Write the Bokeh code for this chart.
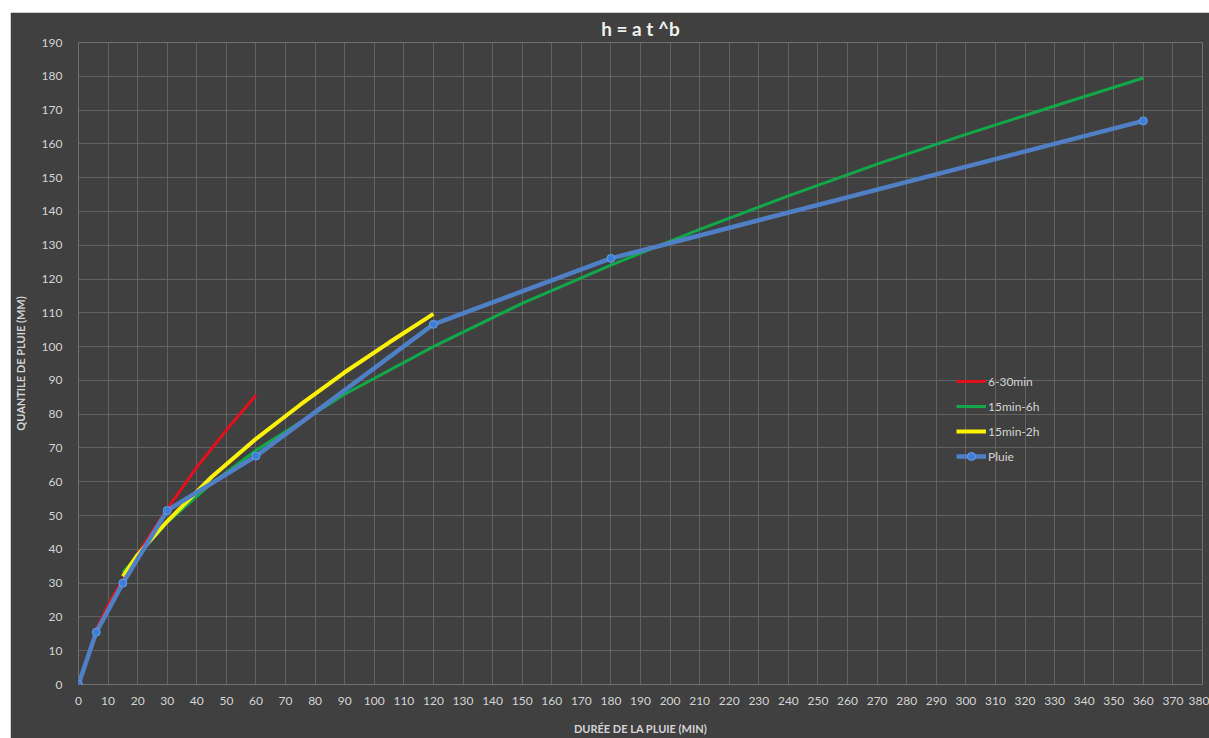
from bokeh.plotting import figure
from bokeh.models import Range1d, FixedTicker, Legend, LegendItem, Spacer
from bokeh.layouts import column, row
from bokeh.embed import file_html
from bokeh.resources import INLINE

# ---- data ----
pluie_t = [0, 6, 15, 30, 60, 120, 180, 360]
pluie_h = [0, 15.5, 30.0, 51.5, 67.6, 106.6, 126.1, 166.8]

red_t = [6, 10, 15, 20, 30, 40, 50, 60]
red_h = [16.2, 23.5, 31.0, 38.6, 52.0, 64.3, 75.3, 85.6]

green_t = [15, 30, 45, 60, 90, 120, 150, 180, 210, 240, 270, 300, 330, 360]
green_h = [33.2, 48.0, 59.5, 69.3, 85.9, 100.0, 112.8, 124.1, 134.7, 144.6, 154.0, 162.8, 171.2, 179.5]

yellow_t = [15, 20, 30, 45, 60, 75, 90, 105, 120]
yellow_h = [32.0, 38.4, 48.3, 61.4, 72.7, 82.8, 92.4, 101.2, 109.7]

x_ticks = list(range(0, 390, 10))
y_ticks = list(range(0, 200, 10))

title_text = "h = a t ^b"
x_label = "DURÉE DE LA PLUIE (MIN)"
y_label = "QUANTILE DE PLUIE (MM)"
names = ["6-30min", "15min-6h", "15min-2h", "Pluie"]

FONT = "Lato"
BG = "#404040"
TXT = "#d4d4d4"

p = figure(width=1199, height=726, output_backend="svg", toolbar_location=None,
           x_range=Range1d(0, 380), y_range=Range1d(0, 190),
           min_border_left=68, min_border_right=7, min_border_top=30, min_border_bottom=54)

p.background_fill_color = BG
p.border_fill_color = BG
p.outline_line_color = None

p.title.text = title_text
p.title.align = "center"
p.title.text_font = FONT
p.title.text_font_size = "19px"
p.title.text_font_style = "bold"
p.title.text_color = "#f0f0f0"
p.title.standoff = 5

for ax in (p.xaxis[0], p.yaxis[0]):
    ax.axis_line_color = None
    ax.major_tick_line_color = None
    ax.minor_tick_line_color = None
    ax.major_label_text_font = FONT
    ax.major_label_text_font_size = "12px"
    ax.major_label_text_color = TXT
    ax.axis_label_text_font = FONT
    ax.axis_label_text_font_size = "11px"
    ax.axis_label_text_font_style = "bold"
    ax.axis_label_text_color = TXT

p.xaxis.ticker = FixedTicker(ticks=x_ticks)
p.yaxis.ticker = FixedTicker(ticks=y_ticks)
p.xaxis.axis_label = x_label
p.yaxis.axis_label = y_label
p.xaxis.major_label_standoff = 6
p.yaxis.major_label_standoff = 10
p.xaxis.axis_label_standoff = 14
p.yaxis.axis_label_standoff = 12

p.xgrid.ticker = FixedTicker(ticks=x_ticks)
p.ygrid.ticker = FixedTicker(ticks=y_ticks)
for g in (p.xgrid[0], p.ygrid[0]):
    g.grid_line_color = "#6a6a6a"
    g.grid_line_width = 1
    g.grid_line_alpha = 0.8

r_red = p.line(red_t, red_h, line_color="#e3101b", line_width=3)
r_green = p.line(green_t, green_h, line_color="#12a84a", line_width=3)
r_yellow = p.line(yellow_t, yellow_h, line_color="#fff200", line_width=4)
r_blue = p.line(pluie_t, pluie_h, line_color="#4f80c6", line_width=4.5)
r_pts = p.scatter(pluie_t, pluie_h, size=8, fill_color="#3d7fd6", line_color="#6a9be0", line_width=1)

legend = Legend(items=[
    LegendItem(label=names[0], renderers=[r_red]),
    LegendItem(label=names[1], renderers=[r_green]),
    LegendItem(label=names[2], renderers=[r_yellow]),
    LegendItem(label=names[3], renderers=[r_blue, r_pts]),
], location=(878, 218))
legend.background_fill_alpha = 0
legend.border_line_color = None
legend.label_text_font = FONT
legend.label_text_font_size = "12px"
legend.label_text_color = TXT
legend.glyph_width = 30
legend.glyph_height = 20
legend.spacing = 5
legend.label_standoff = 2
legend.padding = 4
p.add_layout(legend)

layout = column(Spacer(width=1209, height=12), row(Spacer(width=10, height=726), p))
open("out.html", "w").write(file_html(layout, INLINE))
